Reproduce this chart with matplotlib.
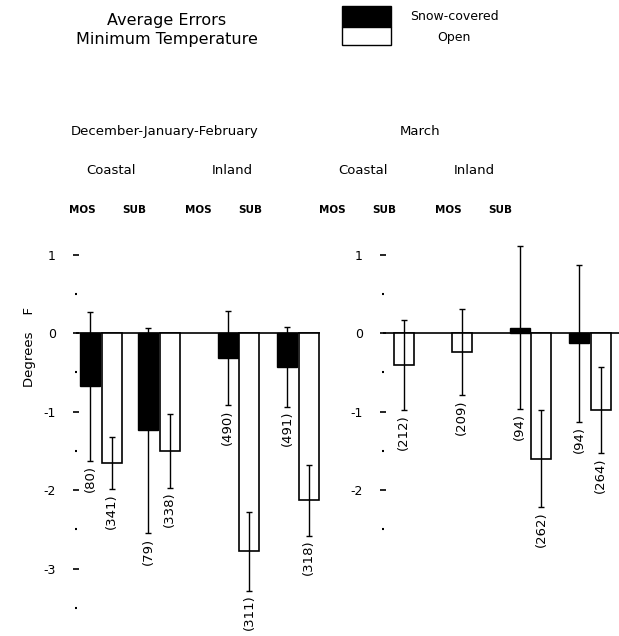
import numpy as np
import matplotlib.pyplot as plt
from matplotlib.patches import Rectangle
from matplotlib.ticker import FuncFormatter

plt.rcParams['font.family'] = 'DejaVu Sans'
plt.rcParams['axes.unicode_minus'] = False

# Data: mean errors (deg F), std (error bar half-length), and sample sizes
groups = ['Coastal MOS', 'Coastal SUB', 'Inland MOS', 'Inland SUB']

snow_djf = [-0.68, -1.24, -0.32, -0.43]
snow_djf_err = [0.95, 1.31, 0.60, 0.51]
n_snow_djf = [80, 79, 490, 491]
open_djf = [-1.66, -1.50, -2.78, -2.13]
open_djf_err = [0.33, 0.47, 0.50, 0.45]
n_open_djf = [341, 338, 311, 318]

snow_mar = [np.nan, np.nan, 0.07, -0.13]
snow_mar_err = [np.nan, np.nan, 1.04, 1.00]
n_snow_mar = [None, None, 94, 94]
open_mar = [-0.41, -0.24, -1.60, -0.98]
open_mar_err = [0.57, 0.55, 0.62, 0.55]
n_open_mar = [212, 209, 262, 264]

W, H = 619, 636


def fx(x):
    return x / W


def fy(y):
    return 1 - y / H


positions = np.array([0, 1, 2.37, 3.4])
width = 0.345
off = 0.185

fig = plt.figure(figsize=(W / 100, H / 100), dpi=100)

ax_bottom, ax_top = 623.5, 238.8
ax_l = fig.add_axes([fx(76), fy(ax_bottom), (320 - 76) / W, (ax_bottom - ax_top) / H])
ax_r = fig.add_axes([fx(383), fy(ax_bottom), (619 - 383) / W, (ax_bottom - ax_top) / H])


def draw_panel(ax, snow, snow_err, n_snow, opn, opn_err, n_opn, xlim, major, minor):
    ax.axhline(0, color='black', lw=1.2, zorder=1)
    for i, x in enumerate(positions):
        if not np.isnan(snow[i]):
            ax.bar(x - off, snow[i], width, color='black', edgecolor='black', lw=1, zorder=2)
            ax.errorbar(x - off, snow[i], yerr=snow_err[i], color='black', lw=1,
                        capsize=2.5, capthick=1, zorder=3)
            ax.annotate(f'({n_snow[i]})', (x - off, snow[i] - snow_err[i]),
                        xytext=(0, -3), textcoords='offset points', rotation=90,
                        ha='center', va='top', fontsize=9.5)
        ax.bar(x + off, opn[i], width, color='white', edgecolor='black', lw=1.2, zorder=2)
        ax.errorbar(x + off, opn[i], yerr=opn_err[i], color='black', lw=1,
                    capsize=2.5, capthick=1, zorder=3)
        ax.annotate(f'({n_opn[i]})', (x + off, opn[i] - opn_err[i]),
                    xytext=(0, -3), textcoords='offset points', rotation=90,
                    ha='center', va='top', fontsize=9.5)
    ax.set_xlim(*xlim)
    ax.set_ylim(-3.7, 1.2)
    ax.set_yticks(major)
    ax.set_yticks(minor, minor=True)
    ax.yaxis.set_major_formatter(FuncFormatter(lambda v, p: f'{int(round(v))}'))
    ax.tick_params(axis='y', which='major', direction='inout', length=5, width=1.2,
                   pad=12, labelsize=9)
    ax.tick_params(axis='y', which='minor', direction='inout', length=2, width=1.5)
    ax.tick_params(axis='x', bottom=False, labelbottom=False)
    for s in ax.spines.values():
        s.set_visible(False)
    ax.patch.set_alpha(0)


draw_panel(ax_l, snow_djf, snow_djf_err, n_snow_djf, open_djf, open_djf_err, n_open_djf,
           (-0.43, 3.78), [-3, -2, -1, 0, 1], [-3.5, -2.5, -1.5, -0.5, 0.5])
draw_panel(ax_r, snow_mar, snow_mar_err, n_snow_mar, open_mar, open_mar_err, n_open_mar,
           (-0.17, 3.9), [-2, -1, 0, 1], [-2.5, -1.5, -0.5, 0.5])

# Title
fig.text(fx(167), fy(30), 'Average Errors\nMinimum Temperature', ha='center', va='center',
         fontsize=11.5, linespacing=1.3)

# Legend
fig.patches.append(Rectangle((fx(342), fy(27)), 49 / W, 21 / H, transform=fig.transFigure,
                             facecolor='black', edgecolor='black', lw=1))
fig.patches.append(Rectangle((fx(342), fy(45)), 49 / W, 18 / H, transform=fig.transFigure,
                             facecolor='white', edgecolor='black', lw=1))
fig.text(fx(454), fy(17), 'Snow-covered', ha='center', va='center', fontsize=9)
fig.text(fx(454), fy(38), 'Open', ha='center', va='center', fontsize=9)

# Headers
fig.text(fx(165), fy(132), 'December-January-February', ha='center', va='center', fontsize=9.5)
fig.text(fx(420), fy(132), 'March', ha='center', va='center', fontsize=9.5)
for x, t in [(111, 'Coastal'), (232, 'Inland'), (363, 'Coastal'), (474, 'Inland')]:
    fig.text(fx(x), fy(170), t, ha='center', va='center', fontsize=9.5)
for x, t in [(82, 'MOS'), (134, 'SUB'), (198, 'MOS'), (250, 'SUB'),
             (332, 'MOS'), (384, 'SUB'), (448, 'MOS'), (500, 'SUB')]:
    fig.text(fx(x), fy(210), t, ha='center', va='center', fontsize=7.5, fontweight='bold')

# Y label
fig.text(fx(30), fy(347), 'Degrees    F', rotation=90, ha='center', va='center', fontsize=9.5)

fig.savefig('out.png', dpi=100)
